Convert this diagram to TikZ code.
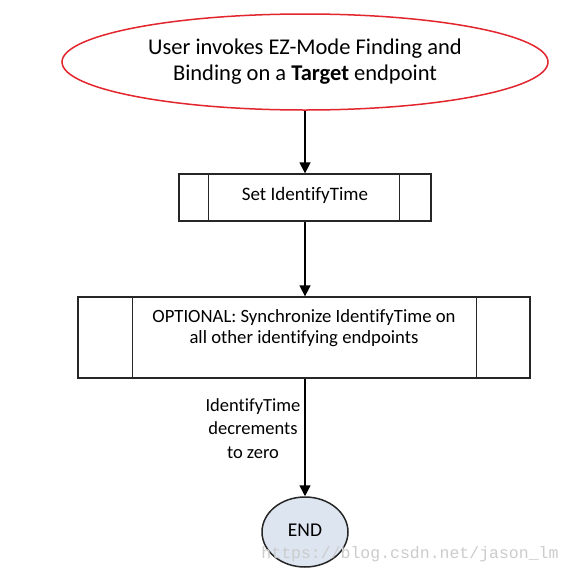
\documentclass[tikz,border=0pt]{standalone}
\usepackage{fontspec}
\setmainfont[Ligatures=CommonOff]{Carlito}
\newfontfamily\wmfont{Liberation Mono}
\usetikzlibrary{shapes.geometric,arrows.meta}
\definecolor{startred}{HTML}{E3262E}
\definecolor{endfill}{HTML}{DCE5F0}
\tikzset{
  conn/.style={line width=1.5pt,-{Triangle[length=11pt,width=11pt]}},
  procbox/.style={draw=black!85,line width=1.3pt,rectangle,inner sep=0pt},
  sideline/.style={draw=black!85,line width=1.3pt},
}
\begin{document}
\begin{tikzpicture}[x=1pt,y=-1pt]
\useasboundingbox[fill=white] (0,0) rectangle (571,576);
% start ellipse
\node[ellipse,draw=startred,line width=1.5pt,minimum width=486pt,minimum height=96pt,inner sep=0pt,
      align=center,font=\fontsize{22.5}{26}\selectfont] (start) at (305,62)
  {User invokes EZ-Mode Finding and\\Binding on a \textbf{Target} endpoint};
% box 1
\node[procbox,minimum width=252pt,minimum height=47pt,font=\fontsize{19}{21}\selectfont] (set) at (305,197.5)
  {\raisebox{8pt}{Set IdentifyTime}};
\draw[sideline] ([xshift=30pt]set.north west) -- ([xshift=30pt]set.south west);
\draw[sideline] ([xshift=-32pt]set.north east) -- ([xshift=-32pt]set.south east);
% box 2
\node[procbox,minimum width=452pt,minimum height=81pt] (sync) at (304,337.5) {};
\node[align=center,font=\fontsize{18.7}{21}\selectfont,inner sep=0pt] (synctext) at (304,328)
  {OPTIONAL: Synchronize IdentifyTime on\\all other identifying endpoints};
\draw[sideline] ([xshift=55pt]sync.north west) -- ([xshift=55pt]sync.south west);
\draw[sideline] ([xshift=-54pt]sync.north east) -- ([xshift=-54pt]sync.south east);
% end
\node[ellipse,draw=black!85,fill=endfill,line width=1.5pt,minimum width=86pt,minimum height=70pt,inner sep=0pt,
      font=\fontsize{19.5}{22}\selectfont] (end) at (305,532) {\raisebox{4pt}{END}};
% label
\node[align=center,font=\fontsize{18.5}{23.5}\selectfont,inner sep=0pt] (lbl) at (253,428.5)
  {IdentifyTime\\decrements\\to zero};
% connectors
\draw[conn] (start.south) -- (set.north);
\draw[conn] (set.south) -- (sync.north -| set.south);
\draw[conn] (sync.south -| end.north) -- (end.north);
% watermark
\node[text=black!20,font=\wmfont\fontsize{16.5}{18}\selectfont,inner sep=0pt] (wm) at (410,554) {https://blog.csdn.net/jason\_lm};
\end{tikzpicture}
\end{document}
